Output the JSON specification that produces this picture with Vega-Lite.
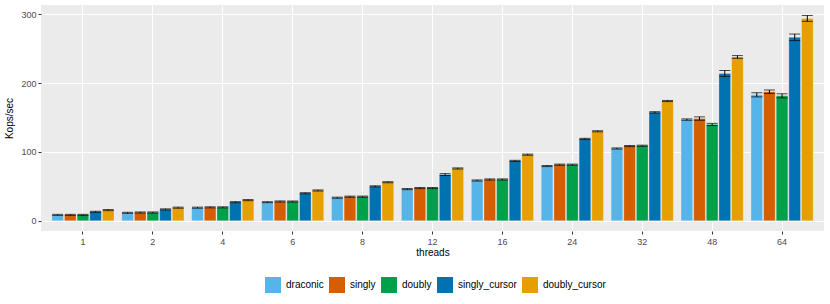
{
  "$schema": "https://vega.github.io/schema/vega-lite/v6.json",
  "width": 783,
  "height": 226,
  "autosize": {"type": "none"},
  "padding": {"left": 41, "top": 5, "right": 6, "bottom": 73},
  "background": "white",
  "config": {
    "view": {"fill": "#EBEBEB", "stroke": null},
    "font": "Liberation Sans",
    "axis": {"domain": false, "gridColor": "white", "tickColor": "#333333", "tickSize": 3, "labelColor": "#4D4D4D", "labelFontSize": 9, "titleFontSize": 10, "titleFontWeight": "normal", "titleColor": "black", "labelFont": "Liberation Sans", "titleFont": "Liberation Sans"}
  },
  "data": {"values": [
    {"threads":"1","impl":"draconic","v":8.5,"lo":7.8,"hi":9.3},
    {"threads":"1","impl":"singly","v":8.5,"lo":7.8,"hi":9.3},
    {"threads":"1","impl":"doubly","v":8.5,"lo":7.8,"hi":9.3},
    {"threads":"1","impl":"singly_cursor","v":13,"lo":12.2,"hi":13.8},
    {"threads":"1","impl":"doubly_cursor","v":15.5,"lo":14.7,"hi":16.3},
    {"threads":"2","impl":"draconic","v":11.5,"lo":10.8,"hi":12.3},
    {"threads":"2","impl":"singly","v":12,"lo":11.2,"hi":12.8},
    {"threads":"2","impl":"doubly","v":12,"lo":11.2,"hi":12.8},
    {"threads":"2","impl":"singly_cursor","v":16.5,"lo":15.7,"hi":17.3},
    {"threads":"2","impl":"doubly_cursor","v":19,"lo":18.2,"hi":19.8},
    {"threads":"4","impl":"draconic","v":19,"lo":18.2,"hi":19.8},
    {"threads":"4","impl":"singly","v":19.5,"lo":18.7,"hi":20.3},
    {"threads":"4","impl":"doubly","v":19.5,"lo":18.7,"hi":20.3},
    {"threads":"4","impl":"singly_cursor","v":27,"lo":26.2,"hi":27.8},
    {"threads":"4","impl":"doubly_cursor","v":30,"lo":29.2,"hi":30.8},
    {"threads":"6","impl":"draconic","v":27,"lo":26.3,"hi":27.7},
    {"threads":"6","impl":"singly","v":28,"lo":27.2,"hi":28.8},
    {"threads":"6","impl":"doubly","v":28,"lo":27.2,"hi":28.8},
    {"threads":"6","impl":"singly_cursor","v":40,"lo":39.2,"hi":40.8},
    {"threads":"6","impl":"doubly_cursor","v":44,"lo":43.2,"hi":44.8},
    {"threads":"8","impl":"draconic","v":33.5,"lo":32.7,"hi":34.3},
    {"threads":"8","impl":"singly","v":35,"lo":34.2,"hi":35.8},
    {"threads":"8","impl":"doubly","v":35,"lo":34.2,"hi":35.8},
    {"threads":"8","impl":"singly_cursor","v":50,"lo":49.2,"hi":50.8},
    {"threads":"8","impl":"doubly_cursor","v":56,"lo":55.2,"hi":56.8},
    {"threads":"12","impl":"draconic","v":46,"lo":45.2,"hi":46.8},
    {"threads":"12","impl":"singly","v":47.5,"lo":46.7,"hi":48.3},
    {"threads":"12","impl":"doubly","v":47.5,"lo":46.7,"hi":48.3},
    {"threads":"12","impl":"singly_cursor","v":67,"lo":65.8,"hi":68.5},
    {"threads":"12","impl":"doubly_cursor","v":76,"lo":75.2,"hi":76.8},
    {"threads":"16","impl":"draconic","v":58.5,"lo":57.7,"hi":59.3},
    {"threads":"16","impl":"singly","v":60,"lo":59.2,"hi":60.8},
    {"threads":"16","impl":"doubly","v":60,"lo":59.2,"hi":60.8},
    {"threads":"16","impl":"singly_cursor","v":87,"lo":86.2,"hi":87.8},
    {"threads":"16","impl":"doubly_cursor","v":96,"lo":95.2,"hi":96.8},
    {"threads":"24","impl":"draconic","v":79.5,"lo":78.7,"hi":80.3},
    {"threads":"24","impl":"singly","v":81.5,"lo":80.7,"hi":82.3},
    {"threads":"24","impl":"doubly","v":81.5,"lo":80.7,"hi":82.3},
    {"threads":"24","impl":"singly_cursor","v":119,"lo":118.2,"hi":119.8},
    {"threads":"24","impl":"doubly_cursor","v":130,"lo":129.2,"hi":130.8},
    {"threads":"32","impl":"draconic","v":105,"lo":104.2,"hi":105.8},
    {"threads":"32","impl":"singly","v":108.5,"lo":107.7,"hi":109.3},
    {"threads":"32","impl":"doubly","v":109,"lo":108.2,"hi":109.8},
    {"threads":"32","impl":"singly_cursor","v":157.5,"lo":156.5,"hi":158.5},
    {"threads":"32","impl":"doubly_cursor","v":174,"lo":173.2,"hi":174.8},
    {"threads":"48","impl":"draconic","v":147,"lo":146,"hi":148},
    {"threads":"48","impl":"singly","v":148.5,"lo":146,"hi":151},
    {"threads":"48","impl":"doubly","v":140,"lo":138.5,"hi":141.5},
    {"threads":"48","impl":"singly_cursor","v":214,"lo":209.7,"hi":218.3},
    {"threads":"48","impl":"doubly_cursor","v":238,"lo":236,"hi":240},
    {"threads":"64","impl":"draconic","v":183,"lo":180,"hi":186},
    {"threads":"64","impl":"singly","v":187.5,"lo":185,"hi":190},
    {"threads":"64","impl":"doubly","v":181.5,"lo":178.5,"hi":184.5},
    {"threads":"64","impl":"singly_cursor","v":266.5,"lo":261.7,"hi":271.3},
    {"threads":"64","impl":"doubly_cursor","v":294,"lo":289.7,"hi":298.3}
  ]},
  "encoding": {
    "x": {"field": "threads", "type": "nominal", "sort": ["1","2","4","6","8","12","16","24","32","48","64"],
      "scale": {"paddingInner": 0.1, "paddingOuter": 0.15},
      "axis": {"title": "threads", "labelAngle": 0, "grid": true, "gridWidth": 1.1, "bandPosition": 0.5, "labelPadding": 3, "titlePadding": 1}},
    "xOffset": {"field": "impl", "type": "nominal", "sort": ["draconic","singly","doubly","singly_cursor","doubly_cursor"],
      "scale": {"domain": ["draconic","singly","doubly","singly_cursor","doubly_cursor"], "paddingInner": 0.08, "paddingOuter": 0.03}}
  },
  "layer": [
    {
      "mark": {"type": "bar", "stroke": "#F5F5F5", "strokeWidth": 0.3},
      "encoding": {
        "y": {"field": "v", "type": "quantitative",
          "scale": {"domain": [-14.9, 313.5], "nice": false, "zero": false},
          "axis": {"title": "Kops/sec", "values": [0,50,100,150,200,250,300],
            "labelExpr": "datum.value % 100 === 0 ? datum.label : ''",
            "gridWidth": {"condition": {"test": "datum.value % 100 === 0", "value": 1.1}, "value": 0.5},
            "tickOpacity": {"condition": {"test": "datum.value % 100 === 0", "value": 1}, "value": 0},
            "titlePadding": 6}},
        "color": {"field": "impl", "type": "nominal",
          "scale": {"domain": ["draconic","singly","doubly","singly_cursor","doubly_cursor"],
                    "range": ["#56B4E9","#D55E00","#009F4A","#0072B2","#E69F00"]},
          "legend": {"title": null, "orient": "none", "legendX": 224, "legendY": 272, "padding": 0, "direction": "horizontal", "symbolType": "square", "symbolSize": 256,
            "symbolStrokeWidth": 0, "labelFontSize": 10, "labelColor": "black", "columnPadding": 5, "labelOffset": 5}}
      }
    },
    {
      "mark": {"type": "rule", "color": "black", "strokeWidth": 1},
      "encoding": {"y": {"field": "lo", "type": "quantitative"}, "y2": {"field": "hi"}}
    },
    {
      "mark": {"type": "tick", "color": "black", "thickness": 1, "size": 11},
      "encoding": {"y": {"field": "lo", "type": "quantitative"}}
    },
    {
      "mark": {"type": "tick", "color": "black", "thickness": 1, "size": 11},
      "encoding": {"y": {"field": "hi", "type": "quantitative"}}
    }
  ]
}
